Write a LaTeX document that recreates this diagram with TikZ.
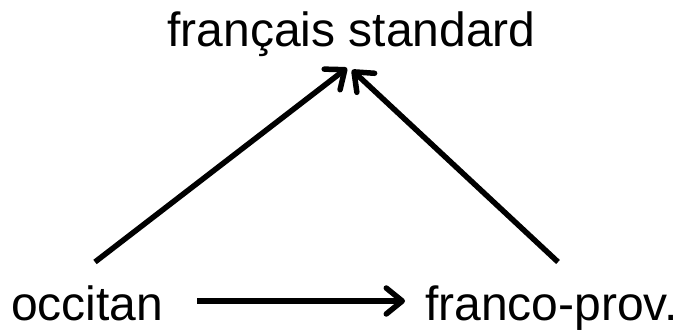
\documentclass[tikz,border=0pt]{standalone}
\usepackage{fontspec}
\setmainfont{Liberation Sans}
\usetikzlibrary{arrows.meta}
\begin{document}
\begin{tikzpicture}[x=1pt,y=1pt,
  lbl/.style={inner sep=0pt,font=\fontsize{48}{56}\selectfont},
  conn/.style={line width=5.5pt,-{Straight Barb[length=16pt,width=26pt,round]}}]
\fill[white] (0,0) rectangle (683,330);
\useasboundingbox (0,0) rectangle (683,330);
\node[lbl,anchor=base] (fs) at (351.5,283) {français standard};
\node[lbl,anchor=base west] (occ) at (11,10) {occitan};
\node[lbl,anchor=base west] (fp) at (425,10) {franco-prov.};
\draw[conn] ([shift={(84,58)}]occ.base west) -- ([shift={(-4.5,-21)}]fs.base);
\draw[conn] ([shift={(133,58)}]fp.base west) -- ([shift={(0.5,-23)}]fs.base);
\draw[conn] ([shift={(186,19)}]occ.base west) -- ([shift={(-20,19)}]fp.base west);
\end{tikzpicture}
\end{document}
